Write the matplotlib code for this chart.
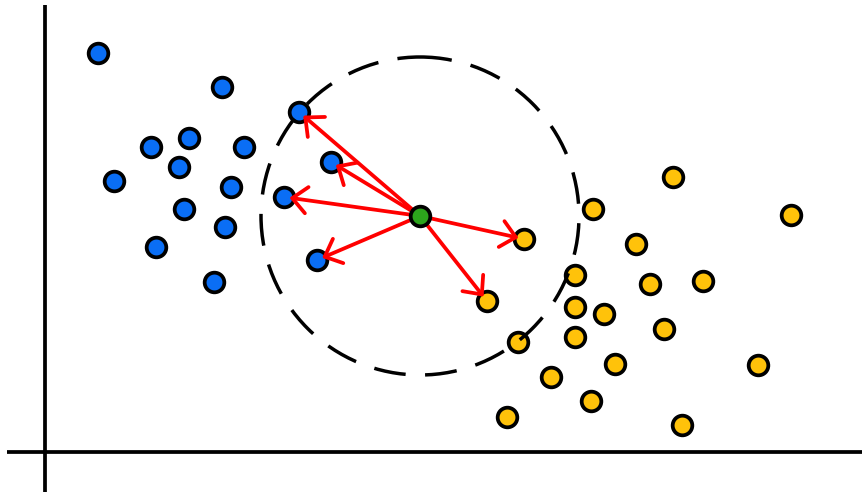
import matplotlib
matplotlib.use("Agg")
import matplotlib.pyplot as plt
from matplotlib.patches import Circle

# pixel-style coordinates (y grows downward)
blue_x = [98, 222, 299, 189, 151, 244, 179, 331, 114, 231, 284, 184, 225, 156, 317, 214]
blue_y = [53, 87, 112, 138, 147, 147, 167, 162, 181, 187, 197, 209, 227, 247, 260, 282]

yellow_x = [673, 593, 791, 524, 636, 575, 650, 703, 487, 575, 604, 664, 518, 575, 758, 615, 551, 591, 507, 682]
yellow_y = [177, 209, 215, 239, 244, 275, 284, 281, 301, 307, 314, 329, 342, 337, 365, 364, 377, 401, 417, 425]

query = (420, 216)
radius = 159

# nearest neighbours the arrows point to
neigh_x = [299, 331, 284, 317, 524, 487]
neigh_y = [112, 162, 197, 260, 239, 301]

BLUE = "#0a6ef5"
YELLOW = "#ffc20a"
GREEN = "#2ca41c"

fig = plt.figure(figsize=(8.65, 4.94), dpi=100)
ax = fig.add_axes([0, 0, 1, 1])
ax.set_xlim(0, 865)
ax.set_ylim(494, 0)
ax.axis("off")

# axis lines
ax.plot([45, 45], [5, 492], color="black", lw=2.7, solid_capstyle="butt", zorder=1)
ax.plot([7, 862], [452, 452], color="black", lw=2.7, solid_capstyle="butt", zorder=1)

ax.scatter(blue_x, blue_y, s=200, c=BLUE, edgecolors="black", linewidths=2.7, zorder=2)
ax.scatter(yellow_x, yellow_y, s=200, c=YELLOW, edgecolors="black", linewidths=2.7, zorder=2)

ax.add_patch(Circle(query, radius, fill=False, edgecolor="black", lw=2.5,
                    linestyle=(0, (9.2, 5.6)), zorder=3))

for nx, ny in zip(neigh_x, neigh_y):
    ax.annotate("", xy=(nx, ny), xytext=query,
                arrowprops=dict(arrowstyle="->,head_length=1.05,head_width=0.95",
                                color="red", lw=2.7, shrinkA=0, shrinkB=4),
                zorder=4)

ax.scatter([query[0]], [query[1]], s=200, c=GREEN, edgecolors="black", linewidths=2.7, zorder=5)

fig.savefig("out.png", dpi=100)
